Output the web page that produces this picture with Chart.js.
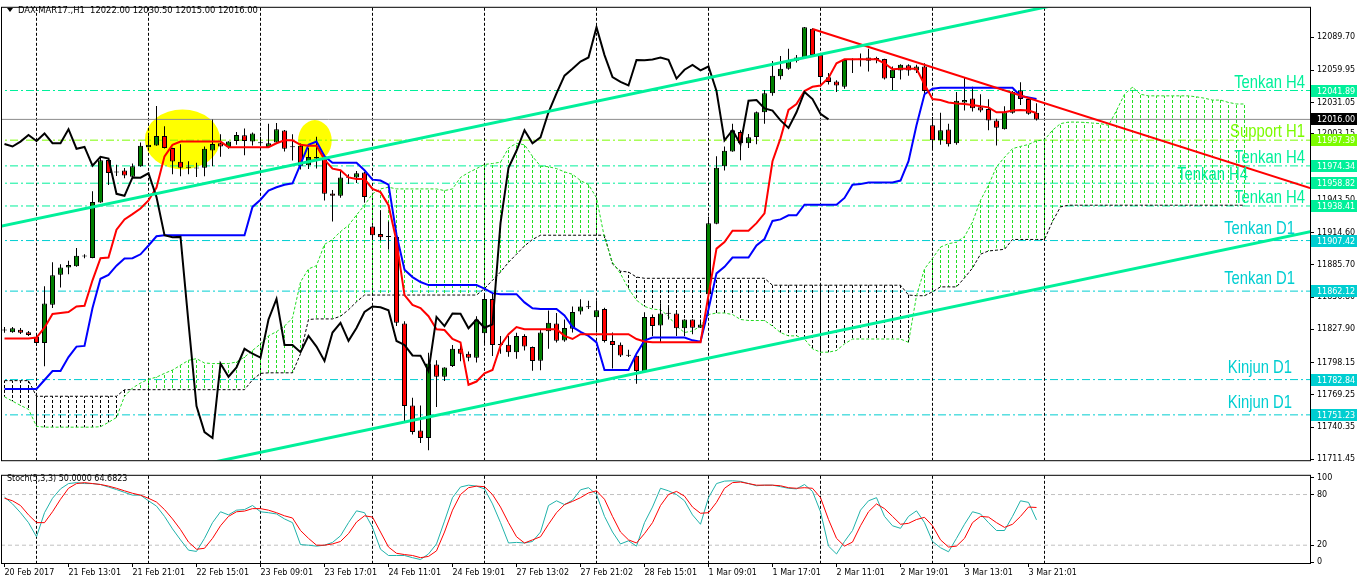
<!DOCTYPE html>
<html>
<head>
<meta charset="utf-8">
<title>DAX-MAR17 H1</title>
<script src="https://cdn.jsdelivr.net/npm/chart.js@4.4.1/dist/chart.umd.min.js"></script>
<style>
  body { margin: 0; background: #fff; }
  #wrap { position: relative; width: 1358px; height: 584px; overflow: hidden; }
  canvas { position: absolute; left: 0; }
  #priceChart { top: 0; }
  #stochChart { top: 468px; }
</style>
</head>
<body>
<div id="wrap">
  <canvas id="priceChart" width="1358" height="468"></canvas>
  <canvas id="stochChart" width="1358" height="116"></canvas>
</div>
<script>
// H1 candles, bar 0 = first visible bar
const open = [
  11827.3, 11825.3, 11827.6, 11825.3, 11821.2, 11815.6, 11849.9, 11876.7, 11883.2, 11884.4,
  11893.4, 11891.9, 11941.6, 11979.7, 11968.9, 11970.1, 11964.5, 11973.9, 11991.1, 11992.6,
  12001.1, 11990.3, 11978.0, 11972.7, 11972.3, 11972.7, 11988.2, 11994.6, 11991.2, 11996.7,
  12001.7, 11996.1, 11994.9, 11991.2, 11995.2, 12006.0, 11991.1, 11992.3, 11974.8, 11982.4,
  11980.3, 11949.5, 11947.5, 11964.0, 11964.0, 11968.3, 11920.1, 11913.3, 11910.9, 11910.7,
  11833.2, 11759.7, 11737.2, 11730.5, 11796.3, 11785.4, 11795.1, 11810.4, 11806.0, 11802.5,
  11824.4, 11855.1, 11814.1, 11814.1, 11807.4, 11822.0, 11812.1, 11799.8, 11826.1, 11833.2,
  11817.9, 11828.5, 11843.9, 11847.8, 11838.8, 11846.1, 11817.4, 11814.1, 11804.5, 11804.3,
  11789.9, 11839.0, 11831.4, 11842.0, 11842.0, 11828.8, 11836.7, 11829.3, 11859.3, 11922.4,
  11974.1, 11987.3, 12004.8, 11994.6, 12000.3, 12022.4, 12039.4, 12054.6, 12061.3, 12068.6,
  12071.5, 12097.3, 12073.6, 12053.7, 12049.9, 12045.2, 12069.3, 12069.8, 12068.6, 12071.0,
  12070.1, 12053.1, 12059.9, 12064.5, 12059.9, 12063.4, 12010.7, 11997.2, 12006.9, 11994.6,
  12031.2, 12034.7, 12026.8, 12025.4, 12015.1, 12007.2, 12022.0, 12042.0, 12034.2, 12022.0
];
const high = [
  11829.9, 11829.9, 11829.1, 11826.4, 11823.0, 11866.5, 11887.9, 11886.1, 11889.3, 11900.8,
  11895.1, 11951.7, 11982.4, 11980.2, 11975.4, 11972.4, 11976.5, 11995.2, 12001.3, 12028.0,
  12009.8, 11990.6, 11993.8, 11978.5, 11977.1, 11991.7, 12016.0, 12002.6, 11996.5, 12004.8,
  12007.8, 12004.3, 12000.4, 12012.2, 12012.7, 12006.4, 12002.6, 11994.3, 11990.3, 12000.4,
  11984.4, 11952.8, 11970.3, 11966.8, 11969.7, 11968.9, 11921.0, 11934.6, 11924.4, 11911.0,
  11835.2, 11766.5, 11759.7, 11806.9, 11800.1, 11794.0, 11813.9, 11813.9, 11808.0, 11839.6,
  11860.1, 11860.1, 11822.0, 11822.0, 11824.9, 11823.5, 11812.4, 11827.9, 11844.8, 11842.5,
  11836.7, 11848.4, 11854.8, 11853.4, 11853.2, 11847.3, 11825.0, 11816.1, 11809.6, 11804.5,
  11843.1, 11841.1, 11851.3, 11848.4, 11842.5, 11837.0, 11837.0, 11836.7, 11928.8, 11982.9,
  11991.6, 12012.2, 12006.3, 12002.8, 12023.0, 12042.3, 12068.4, 12072.8, 12079.4, 12073.6,
  12098.8, 12097.6, 12074.0, 12057.5, 12051.0, 12069.6, 12070.7, 12075.0, 12079.4, 12072.2,
  12070.4, 12063.4, 12065.4, 12065.4, 12064.9, 12066.3, 12018.1, 12021.9, 12012.2, 12040.6,
  12054.0, 12045.2, 12038.5, 12034.1, 12016.6, 12027.7, 12041.4, 12049.3, 12035.6, 12030.5
];
const low = [
  11824.7, 11824.7, 11823.8, 11822.0, 11813.2, 11794.8, 11846.9, 11865.3, 11877.3, 11884.0,
  11891.6, 11891.5, 11941.2, 11957.2, 11965.3, 11963.3, 11963.9, 11973.5, 11990.8, 11992.3,
  11990.0, 11966.8, 11965.1, 11966.8, 11964.4, 11965.1, 11974.1, 11982.6, 11989.7, 11993.2,
  11983.8, 11992.6, 11992.6, 11990.9, 11994.9, 11987.3, 11979.1, 11971.2, 11971.5, 11972.1,
  11943.4, 11924.5, 11945.8, 11958.0, 11958.9, 11941.4, 11908.3, 11907.4, 11899.5, 11830.8,
  11744.5, 11733.7, 11726.1, 11719.6, 11758.2, 11781.6, 11794.2, 11799.2, 11799.2, 11798.1,
  11814.8, 11803.9, 11806.0, 11803.3, 11801.6, 11808.9, 11790.7, 11791.3, 11810.4, 11816.1,
  11816.8, 11825.0, 11841.1, 11846.0, 11825.0, 11816.1, 11792.8, 11803.1, 11803.1, 11779.0,
  11788.7, 11822.0, 11815.6, 11836.7, 11822.0, 11822.0, 11823.5, 11829.0, 11858.9, 11922.0,
  11970.3, 11987.0, 11979.4, 11990.3, 11993.8, 12012.2, 12037.1, 12051.7, 12060.5, 12066.9,
  12070.7, 12072.8, 12045.2, 12047.3, 12040.6, 12043.5, 12057.5, 12063.4, 12059.0, 12066.3,
  12051.7, 12042.3, 12051.7, 12055.2, 12057.5, 12038.5, 11989.1, 11993.2, 11991.7, 11993.2,
  12023.9, 12023.0, 12022.4, 12006.3, 11992.6, 12006.9, 12021.1, 12028.9, 12020.1, 12015.0
];
const close = [
  11826.9, 11828.8, 11824.7, 11822.7, 11815.7, 11851.0, 11876.4, 11883.2, 11885.5, 11893.7,
  11893.2, 11942.0, 11979.4, 11968.0, 11968.5, 11965.7, 11973.9, 11992.3, 11993.2, 12001.1,
  11990.3, 11978.2, 11972.7, 11972.9, 11972.1, 11989.7, 11994.0, 11991.7, 11996.1, 12002.0,
  11996.7, 12003.4, 11994.7, 11994.6, 12007.2, 11989.7, 11991.3, 11974.5, 11982.4, 11980.9,
  11949.3, 11947.5, 11964.0, 11963.8, 11967.7, 11946.4, 11912.2, 11910.4, 11910.7, 11833.7,
  11759.1, 11735.8, 11730.5, 11797.2, 11785.4, 11793.7, 11810.4, 11806.0, 11802.5, 11836.7,
  11855.1, 11813.9, 11813.9, 11807.4, 11822.0, 11812.4, 11799.5, 11825.0, 11833.7, 11817.6,
  11829.1, 11843.4, 11848.4, 11847.6, 11844.9, 11817.4, 11813.9, 11804.5, 11804.3, 11790.5,
  11839.0, 11830.8, 11842.0, 11841.8, 11828.8, 11836.7, 11829.3, 11832.3, 11923.0, 11972.7,
  11987.9, 12006.3, 11994.6, 11999.9, 12022.4, 12039.4, 12055.2, 12061.3, 12067.8, 12071.5,
  12098.5, 12073.6, 12054.0, 12049.6, 12046.4, 12069.3, 12069.1, 12069.6, 12071.5, 12069.3,
  12052.6, 12060.5, 12064.9, 12059.9, 12063.4, 12041.4, 11997.2, 12006.3, 11993.8, 12032.7,
  12033.3, 12025.9, 12023.9, 12015.1, 12008.4, 12022.4, 12040.6, 12034.2, 12021.0, 12016.0
];

// Ichimoku lines as drawn on the chart
const tenkan = [
  11819.7, 11819.7, 11819.7, 11819.7, 11820.5, 11829.3, 11841.6, 11842.5, 11843.4, 11848.4,
  11849.0, 11871.8, 11891.6, 11892.2, 11917.1, 11926.4, 11931.1, 11936.1, 11943.4, 11954.9,
  11982.9, 11993.2, 11996.1, 11996.1, 11996.1, 11996.1, 11996.1, 11996.1, 11991.1, 11991.1,
  11991.1, 11991.1, 11991.1, 11991.1, 11994.6, 11997.2, 11997.2, 11993.2, 11992.3, 11992.3,
  11980.0, 11971.9, 11970.4, 11964.0, 11962.5, 11962.5, 11953.7, 11950.8, 11939.1, 11906.9,
  11858.6, 11849.8, 11846.9, 11839.6, 11827.9, 11827.3, 11819.2, 11816.2, 11778.2, 11781.1,
  11788.4, 11791.4, 11813.3, 11823.5, 11829.9, 11827.9, 11827.9, 11827.9, 11827.9, 11827.9,
  11822.0, 11819.2, 11823.5, 11823.5, 11823.5, 11823.5, 11823.5, 11823.5, 11823.5, 11819.2,
  11817.0, 11816.2, 11816.2, 11816.2, 11816.2, 11816.2, 11816.2, 11816.2, 11858.6, 11900.2,
  11906.0, 11916.3, 11916.3, 11916.3, 11923.0, 11931.8, 11978.5, 11999.0, 12024.5, 12029.7,
  12041.4, 12045.2, 12046.4, 12053.1, 12066.3, 12069.8, 12069.8, 12069.8, 12069.8, 12069.8,
  12066.3, 12061.0, 12061.3, 12061.3, 12061.3, 12047.3, 12034.2, 12033.3, 12031.2, 12030.3,
  12029.7, 12028.9, 12027.7, 12026.8, 12022.4, 12022.4, 12024.0, 12024.5, 12024.0, 12021.7
];
const kijun = [
  11774.4, 11774.4, 11774.4, 11774.4, 11774.4, 11782.5, 11790.5, 11790.5, 11803.0, 11812.4,
  11813.0, 11846.9, 11873.2, 11876.7, 11884.9, 11891.4, 11891.6, 11895.1, 11903.0, 11911.3,
  11912.2, 11912.2, 11912.2, 11912.2, 11912.2, 11912.2, 11912.2, 11912.2, 11912.2, 11912.2,
  11912.2, 11937.6, 11944.0, 11952.2, 11955.2, 11957.5, 11958.7, 11975.6, 11993.2, 11996.1,
  11982.9, 11977.1, 11977.1, 11977.1, 11977.1, 11970.4, 11962.0, 11961.2, 11957.5, 11912.7,
  11881.3, 11874.7, 11870.3, 11867.5, 11867.5, 11867.5, 11867.5, 11867.5, 11867.5, 11867.5,
  11864.3, 11860.3, 11859.4, 11859.4, 11859.4, 11852.0, 11846.7, 11846.2, 11846.2, 11846.2,
  11840.3, 11830.0, 11825.6, 11822.0, 11816.2, 11791.4, 11791.4, 11791.4, 11791.4, 11806.1,
  11817.9, 11820.5, 11820.5, 11820.5, 11820.5, 11820.5, 11818.0, 11816.8, 11845.8, 11878.0,
  11883.9, 11892.2, 11892.2, 11892.2, 11903.0, 11908.8, 11925.0, 11926.4, 11930.0, 11930.0,
  11939.6, 11939.6, 11939.6, 11939.6, 11939.6, 11945.6, 11957.5, 11958.0, 11959.5, 11959.5,
  11959.5, 11959.5, 11961.2, 11978.6, 12010.7, 12038.5, 12043.5, 12044.4, 12044.4, 12044.4,
  12044.4, 12044.4, 12044.4, 12044.4, 12044.4, 12044.4, 12044.4, 12037.0, 12035.6, 12034.2
];
// senkou spans run 26 bars past the last candle
const senkouA = [
  11767.4, 11763.5, 11759.7, 11756.2, 11741.0, 11740.2, 11740.2, 11740.2, 11740.2, 11740.2,
  11740.2, 11740.2, 11740.6, 11744.5, 11748.9, 11767.9, 11775.3, 11779.7, 11783.2, 11785.0,
  11788.4, 11791.4, 11795.7, 11800.1, 11801.6, 11797.7, 11797.2, 11797.2, 11797.2, 11798.6,
  11803.0, 11808.9, 11814.8, 11822.0, 11825.8, 11830.8, 11838.1, 11870.3, 11882.0, 11885.0,
  11904.0, 11908.3, 11915.5, 11921.0, 11930.3, 11939.1, 11949.3, 11953.7, 11955.2, 11953.7,
  11953.7, 11953.7, 11953.7, 11953.7, 11953.7, 11952.2, 11953.7, 11964.0, 11968.3, 11971.9,
  11975.6, 11976.5, 11977.6, 11990.3, 11994.6, 11993.2, 11982.9, 11974.1, 11973.6, 11971.9,
  11969.0, 11966.8, 11961.2, 11957.5, 11945.8, 11909.8, 11887.9, 11877.7, 11864.4, 11854.0,
  11848.4, 11846.0, 11845.4, 11839.6, 11830.8, 11825.0, 11826.4, 11830.8, 11841.1, 11842.5,
  11842.5, 11841.1, 11836.7, 11835.8, 11835.8, 11835.8, 11830.8, 11825.0, 11822.0, 11822.0,
  11819.2, 11810.4, 11807.4, 11807.4, 11808.9, 11814.8, 11819.2, 11819.2, 11819.2, 11819.2,
  11819.2, 11819.2, 11819.2, 11816.2, 11857.9, 11882.0, 11891.5, 11901.6, 11904.6, 11906.0,
  11911.0, 11924.0, 11943.5, 11957.0, 11973.5, 11982.0, 11989.8, 11991.8, 11993.5, 11996.8,
  11997.6, 12006.3, 12012.2, 12013.6, 12013.6, 12013.3, 12012.7, 12012.2, 12010.7, 12023.9,
  12038.5, 12044.9, 12038.5, 12037.1, 12037.1, 12037.1, 12037.1, 12037.1, 12037.1, 12036.2,
  12035.0, 12033.3, 12033.3, 12031.2, 12029.8, 12029.8
];
const senkouB = [
  11781.9, 11781.9, 11781.9, 11781.9, 11767.9, 11767.9, 11767.9, 11767.9, 11767.9, 11767.9,
  11767.9, 11767.9, 11767.9, 11767.9, 11767.9, 11773.8, 11773.8, 11773.8, 11773.8, 11773.8,
  11773.8, 11773.8, 11773.8, 11773.8, 11773.8, 11773.8, 11773.8, 11773.8, 11773.8, 11773.8,
  11773.8, 11782.6, 11788.4, 11788.9, 11788.9, 11788.9, 11788.9, 11806.0, 11836.7, 11837.2,
  11837.2, 11837.2, 11839.6, 11845.4, 11852.5, 11858.6, 11858.6, 11858.6, 11858.6, 11858.6,
  11858.6, 11858.6, 11858.6, 11858.6, 11858.6, 11858.6, 11858.6, 11858.6, 11858.6, 11858.6,
  11864.4, 11871.8, 11879.2, 11887.9, 11895.2, 11902.6, 11908.4, 11912.2, 11912.2, 11912.2,
  11912.2, 11912.2, 11912.2, 11912.2, 11912.2, 11912.2, 11886.4, 11880.0, 11879.2, 11874.7,
  11873.6, 11873.6, 11873.6, 11873.6, 11873.6, 11873.6, 11873.6, 11873.6, 11873.6, 11873.6,
  11873.6, 11873.6, 11873.6, 11873.6, 11873.6, 11873.6, 11867.4, 11867.4, 11867.4, 11867.4,
  11867.4, 11867.4, 11867.4, 11867.4, 11867.4, 11867.4, 11867.4, 11867.4, 11867.4, 11867.4,
  11867.4, 11867.4, 11867.4, 11858.6, 11858.0, 11858.0, 11861.5, 11865.9, 11865.9, 11865.9,
  11874.0, 11882.8, 11895.2, 11898.1, 11898.8, 11899.6, 11908.4, 11908.4, 11908.4, 11908.4,
  11908.4, 11924.5, 11937.6, 11939.1, 11939.1, 11939.1, 11939.1, 11939.1, 11939.1, 11939.1,
  11939.1, 11939.1, 11939.1, 11939.1, 11939.1, 11939.1, 11939.1, 11939.1, 11939.1, 11939.1,
  11939.1, 11939.1, 11939.1, 11939.1, 11939.1, 11939.1
];
const chikouShift = 26;

// Stoch(5,3,3)
const stochK = [
  77.0, 68.9, 58.5, 46.7, 30.0, 58.5, 75.6, 86.7, 93.0, 94.1,
  93.0, 93.0, 91.9, 88.9, 85.9, 82.6, 79.3, 79.3, 72.6, 66.3,
  54.1, 39.3, 26.3, 14.1, 12.6, 28.1, 46.7, 59.6, 55.9, 61.5,
  62.2, 67.0, 59.6, 58.5, 57.0, 51.1, 46.7, 20.7, 20.0, 18.9,
  20.0, 23.3, 31.1, 46.7, 60.7, 58.5, 41.1, 15.2, 7.8, 7.8,
  7.8, 5.2, 3.0, 9.6, 21.5, 48.5, 76.3, 88.9, 91.1, 90.0,
  86.7, 68.9, 46.7, 22.6, 23.3, 22.6, 24.4, 35.6, 67.0, 72.6,
  68.1, 73.3, 85.6, 88.1, 80.0, 54.1, 35.6, 21.5, 25.2, 18.9,
  46.7, 65.2, 87.4, 84.4, 80.0, 72.6, 55.9, 44.8, 76.3, 93.0,
  95.9, 96.3, 95.6, 93.0, 90.4, 91.1, 91.1, 89.3, 87.4, 86.7,
  91.9, 83.7, 59.6, 18.9, 9.6, 24.4, 37.4, 61.5, 72.6, 76.3,
  54.1, 43.0, 40.0, 54.1, 60.7, 46.7, 24.4, 17.0, 12.2, 28.1,
  44.8, 59.6, 57.0, 46.7, 37.4, 37.4, 54.1, 72.6, 70.7, 50.0
];
const stochD = [
  75.6, 72.6, 67.0, 55.9, 46.7, 46.7, 59.6, 74.4, 87.4, 93.0,
  94.1, 93.0, 91.9, 90.0, 87.4, 84.4, 81.5, 79.3, 75.6, 71.1,
  62.2, 51.1, 38.5, 23.7, 15.2, 16.3, 28.1, 43.0, 54.1, 59.6,
  60.4, 63.3, 63.3, 61.5, 58.5, 54.8, 52.2, 37.4, 28.1, 20.0,
  20.0, 21.5, 24.4, 33.7, 47.4, 54.8, 53.3, 35.6, 17.8, 10.4,
  8.9, 7.8, 5.2, 6.7, 13.3, 35.6, 61.5, 80.0, 88.1, 90.0,
  89.3, 80.0, 65.2, 46.7, 30.0, 22.6, 26.3, 30.0, 44.8, 58.5,
  68.1, 71.9, 76.3, 81.9, 84.4, 74.4, 54.1, 35.6, 26.3, 22.6,
  33.7, 46.7, 67.0, 80.0, 83.7, 78.1, 65.2, 57.8, 58.5, 70.7,
  87.4, 94.1, 94.8, 93.0, 91.1, 91.1, 91.1, 90.4, 88.1, 87.4,
  88.1, 87.4, 76.3, 50.4, 28.1, 18.9, 23.7, 43.0, 59.6, 68.9,
  63.3, 54.1, 44.8, 45.9, 50.4, 53.0, 43.0, 26.3, 17.8, 18.9,
  28.1, 46.7, 54.1, 53.3, 46.7, 41.1, 44.8, 54.1, 65.2, 64.68
];
const stochLevels = [80, 20];
const stochTicks = [0, 20, 80, 100];

// axes
const priceTicks = [12089.70, 12059.95, 12031.05, 12003.15, 11973.35, 11943.50, 11914.60,
  11885.70, 11856.80, 11827.90, 11798.15, 11769.25, 11740.35, 11711.45];
const timeLabelBars = [0, 8, 16, 24, 32, 40, 48, 56, 64, 72, 80, 88, 96, 104, 112, 120, 128];
const timeLabels = ['20 Feb 2017', '21 Feb 13:01', '21 Feb 21:01', '22 Feb 15:01', '23 Feb 09:01',
  '23 Feb 17:01', '24 Feb 11:01', '24 Feb 19:01', '27 Feb 13:02', '27 Feb 21:02', '28 Feb 15:01',
  '1 Mar 09:01', '1 Mar 17:01', '2 Mar 11:01', '2 Mar 19:01', '3 Mar 13:01', '3 Mar 21:01'];
const dayStarts = [4, 18, 32, 46, 60, 74, 88, 102, 116, 130];

// drawn objects: horizontal levels, trend lines, highlight ellipses
const levelPrices = [12041.89, 11997.39, 11974.34, 11958.82, 11938.41, 11907.42, 11862.12, 11782.84, 11751.23];
const levelNames = ['Tenkan H4', 'Support H1', 'Tenkan H4', 'Tenkan H4', 'Tenkan H4',
  'Tenkan D1', 'Tenkan D1', 'Kinjun D1', 'Kinjun D1'];
const lastPrice = 12016.00;
const header = 'DAX-MAR17.,H1  12022.00 12030.50 12015.00 12016.00';
const stochTitle = 'Stoch(5,3,3) 50.0000 64.6823';
const trendRed = [[101, 12097.0], [163.2, 11954.5]];
const channelTop = [[-0.6, 11920.1], [140, 12131.5]];
const channelBottom = [[20, 11699.6], [165, 11918.1]];
// [bar, price, half width in bars, half height in points]
const ellipses = [[22.25, 11998.0, 4.7, 26.8], [38.8, 11997.0, 2.1, 18.4]];

// ---- styling ----
const levelStyle = {
  'Tenkan H4': { color: '#00f09a', gap: 3 },
  'Support H1': { color: '#7cfc00', gap: 3 },
  'Tenkan D1': { color: '#00ced1', gap: 7 },
  'Kinjun D1': { color: '#00ced1', gap: 7 }
};
const labelInset = [5, 5, 5, 62, 5, 15, 15, 18, 18];
const xMin = -0.3125, xMax = 163.1875;
const axisFont = { family: 'DejaVu Sans', size: 8 };
const BULL = '#008000', BEAR = '#ff0000';

function dotPattern(canvas, color) {
  const c = document.createElement('canvas');
  c.width = 1; c.height = 5;
  const g = c.getContext('2d');
  g.fillStyle = color;
  g.fillRect(0, 0, 1, 3);
  return canvas.getContext('2d').createPattern(c, 'repeat');
}

function pts(arr) { return arr.map((v, i) => ({ x: i, y: v })); }
function seg(p) { return p.map(q => ({ x: q[0], y: q[1] })); }
function flat(v) { return [{ x: xMin - 1, y: v }, { x: xMax + 1, y: v }]; }

const priceCanvas = document.getElementById('priceChart');
const greenDots = dotPattern(priceCanvas, '#22dd22');
const blackDots = dotPattern(priceCanvas, '#000000');

const lineBase = { type: 'line', pointRadius: 0, fill: false, tension: 0 };
const barBase = { type: 'bar', grouped: false, inflateAmount: 0, borderSkipped: false };

const datasets = [];
levelPrices.forEach((p, i) => {
  datasets.push(Object.assign({}, lineBase, {
    data: flat(p), borderColor: levelStyle[levelNames[i]].color, borderWidth: 1,
    borderDash: [8, 3, 2, 3], order: 20
  }));
});
datasets.push(Object.assign({}, lineBase, { data: flat(lastPrice), borderColor: '#8c8c8c', borderWidth: 1, order: 20 }));

// cloud hatch, one dotted stroke per bar between the spans
datasets.push(Object.assign({}, barBase, {
  data: senkouA.map((a, i) => ({ x: i, y: [a, senkouB[i]] })),
  backgroundColor: senkouA.map((a, i) => a >= senkouB[i] ? greenDots : blackDots),
  barThickness: 1, borderWidth: 0, order: 15
}));
datasets.push(Object.assign({}, lineBase, { data: pts(senkouA), borderColor: '#22dd22', borderWidth: 1, borderDash: [3, 2], order: 14 }));
datasets.push(Object.assign({}, lineBase, { data: pts(senkouB), borderColor: '#000', borderWidth: 1, borderDash: [3, 2], order: 14 }));

// candles
datasets.push(Object.assign({}, barBase, {
  data: low.map((l, i) => ({ x: i, y: [l, high[i]] })),
  backgroundColor: '#000', barThickness: 1, borderWidth: 0, order: 10
}));
datasets.push(Object.assign({}, barBase, {
  data: open.map((o, i) => ({ x: i, y: [o, close[i]] })),
  backgroundColor: open.map((o, i) => close[i] >= o ? BULL : BEAR),
  borderColor: '#000', borderWidth: 1, barThickness: 5, minBarLength: 1, order: 9
}));

datasets.push(Object.assign({}, lineBase, { data: pts(kijun), borderColor: '#0000ff', borderWidth: 2, order: 6 }));
datasets.push(Object.assign({}, lineBase, { data: pts(tenkan), borderColor: '#ff0000', borderWidth: 2, order: 5 }));
datasets.push(Object.assign({}, lineBase, { data: pts(close.slice(chikouShift)), borderColor: '#000', borderWidth: 2, order: 4 }));

datasets.push(Object.assign({}, lineBase, { data: seg(channelTop), borderColor: '#00f09a', borderWidth: 3, order: 1 }));
datasets.push(Object.assign({}, lineBase, { data: seg(channelBottom), borderColor: '#00f09a', borderWidth: 3, order: 1 }));
datasets.push(Object.assign({}, lineBase, { data: seg(trendRed), borderColor: '#ff0000', borderWidth: 2, order: 1 }));

const priceDecor = {
  id: 'priceDecor',
  beforeDraw(chart) {
    const { ctx, scales: { x, y } } = chart;
    ctx.save();
    ctx.fillStyle = '#ffff00';
    ellipses.forEach(e => {
      const cx = x.getPixelForValue(e[0]), cy = y.getPixelForValue(e[1]);
      const rx = x.getPixelForValue(e[0] + e[2]) - cx;
      const ry = y.getPixelForValue(e[1] - e[3]) - cy;
      ctx.beginPath();
      ctx.ellipse(cx, cy, rx, ry, 0, 0, Math.PI * 2);
      ctx.fill();
    });
    ctx.restore();
  },
  afterDraw(chart) {
    const { ctx, chartArea: a, scales: { y } } = chart;
    ctx.save();
    ctx.strokeStyle = '#000';
    ctx.lineWidth = 1;
    ctx.strokeRect(a.left - 0.5, a.top - 0.5, a.right - a.left + 1, a.bottom - a.top + 1);

    // level captions
    ctx.font = '19px "Liberation Sans", Arial, sans-serif';
    ctx.textAlign = 'right';
    ctx.textBaseline = 'alphabetic';
    levelPrices.forEach((p, i) => {
      const st = levelStyle[levelNames[i]];
      ctx.save();
      ctx.translate(a.right - labelInset[i], y.getPixelForValue(p) - st.gap);
      ctx.scale(0.78, 1);
      ctx.fillStyle = st.color;
      ctx.fillText(levelNames[i], 0, 0);
      ctx.restore();
    });

    // price tags on the axis
    ctx.font = '8px "DejaVu Sans"';
    ctx.textAlign = 'left';
    ctx.textBaseline = 'middle';
    const tag = (p, bg) => {
      const py = Math.round(y.getPixelForValue(p));
      ctx.fillStyle = bg;
      ctx.fillRect(a.right + 1, py - 6, 46, 12);
      ctx.fillStyle = '#fff';
      ctx.fillText(p.toFixed(2), a.right + 7, py + 0.5);
    };
    levelPrices.forEach((p, i) => tag(p, levelStyle[levelNames[i]].color));
    tag(lastPrice, '#000');

    // header
    ctx.fillStyle = '#000';
    ctx.beginPath();
    ctx.moveTo(7, 8); ctx.lineTo(13, 8); ctx.lineTo(10, 12); ctx.closePath();
    ctx.fill();
    ctx.font = '8.4px "DejaVu Sans"';
    ctx.fillText(header, 18, 11);
    ctx.restore();
  }
};

new Chart(priceCanvas, {
  type: 'bar',
  data: { datasets: datasets },
  options: {
    responsive: false,
    animation: false,
    layout: { padding: { left: 2, top: 5, right: 0, bottom: 1 } },
    plugins: { legend: { display: false }, tooltip: { enabled: false } },
    scales: {
      x: {
        type: 'linear', min: xMin, max: xMax, offset: false,
        afterBuildTicks: s => { s.ticks = dayStarts.map(v => ({ value: v })); },
        afterFit: s => { s.height = 0; },
        ticks: { display: false },
        grid: { color: '#000', drawTicks: false, offset: false },
        border: { display: false, dash: [3, 2] }
      },
      y: {
        type: 'linear', position: 'right', min: 11710.6, max: 12116.0, beginAtZero: false,
        afterBuildTicks: s => { s.ticks = priceTicks.map(v => ({ value: v })); },
        afterFit: s => { s.width = 48; },
        ticks: { autoSkip: false, padding: 3, color: '#000', font: axisFont, callback: v => v.toFixed(2) },
        grid: { drawOnChartArea: false, color: '#000', tickLength: 4 },
        border: { color: '#000' }
      }
    }
  },
  plugins: [priceDecor]
});

// ---- stochastic panel ----
const stochDecor = {
  id: 'stochDecor',
  afterDraw(chart) {
    const { ctx, chartArea: a } = chart;
    ctx.save();
    ctx.strokeStyle = '#000';
    ctx.lineWidth = 1;
    ctx.strokeRect(a.left - 0.5, a.top - 0.5, a.right - a.left + 1, a.bottom - a.top + 1);
    ctx.fillStyle = '#000';
    ctx.font = '8px "DejaVu Sans"';
    ctx.textBaseline = 'middle';
    ctx.fillText(stochTitle, 7, 11);
    ctx.restore();
  }
};

const stochSets = stochLevels.map(v => Object.assign({}, lineBase, {
  data: flat(v), borderColor: '#c0c0c0', borderWidth: 1, borderDash: [4, 3], order: 5
}));
stochSets.push(Object.assign({}, lineBase, { data: pts(stochK), borderColor: '#20b2aa', borderWidth: 1, order: 2 }));
stochSets.push(Object.assign({}, lineBase, { data: pts(stochD), borderColor: '#ff0000', borderWidth: 1, order: 1 }));

new Chart(document.getElementById('stochChart'), {
  type: 'line',
  data: { datasets: stochSets },
  options: {
    responsive: false,
    animation: false,
    layout: { padding: { left: 2, top: 2, right: 0, bottom: 0 } },
    plugins: { legend: { display: false }, tooltip: { enabled: false } },
    scales: {
      x: {
        type: 'linear', position: 'bottom', min: xMin, max: xMax, offset: false,
        afterBuildTicks: s => { s.ticks = timeLabelBars.map(v => ({ value: v })); },
        afterFit: s => { s.height = 21; },
        ticks: {
          autoSkip: false, maxRotation: 0, minRotation: 0, align: 'start', padding: 1,
          color: '#000', font: axisFont, callback: (v, i) => timeLabels[i]
        },
        grid: { drawOnChartArea: false, color: '#000', tickLength: 4, offset: false },
        border: { color: '#000' }
      },
      days: {
        type: 'linear', position: 'bottom', min: xMin, max: xMax, offset: false,
        afterBuildTicks: s => { s.ticks = dayStarts.map(v => ({ value: v })); },
        afterFit: s => { s.height = 0; },
        ticks: { display: false },
        grid: { color: '#000', drawTicks: false, offset: false },
        border: { display: false, dash: [3, 2] }
      },
      y: {
        type: 'linear', position: 'right', min: -1.1, max: 102.2,
        afterBuildTicks: s => { s.ticks = stochTicks.map(v => ({ value: v })); },
        afterFit: s => { s.width = 48; },
        ticks: { autoSkip: false, padding: 3, color: '#000', font: axisFont },
        grid: { drawOnChartArea: false, color: '#000', tickLength: 4 },
        border: { color: '#000' }
      }
    }
  },
  plugins: [stochDecor]
});
</script>
</body>
</html>
